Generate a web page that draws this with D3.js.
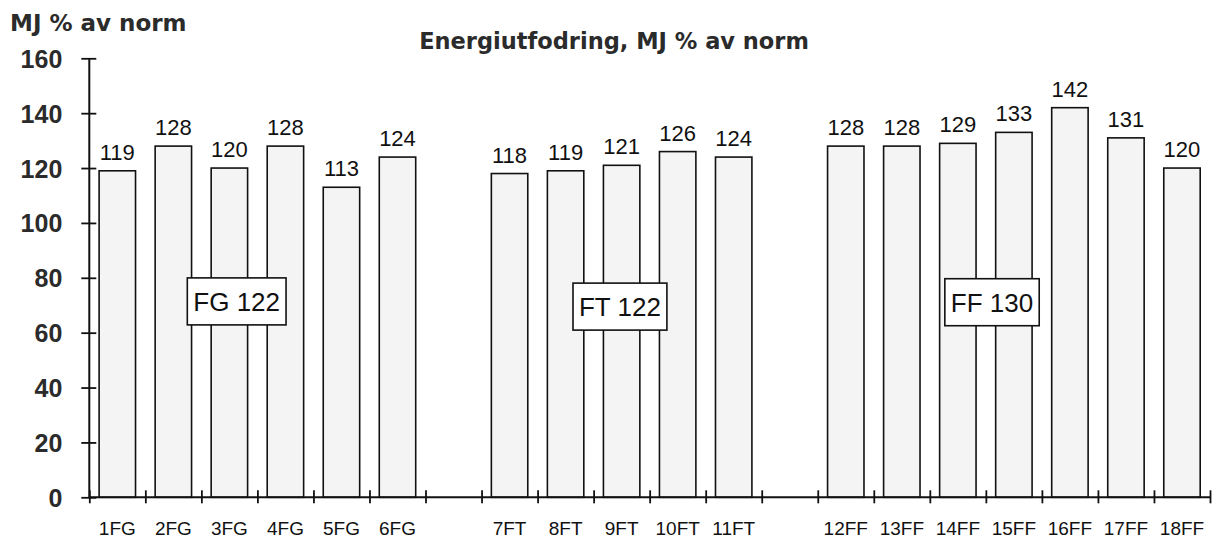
<!DOCTYPE html>
<html>
<head>
<meta charset="utf-8">
<script src="https://cdn.jsdelivr.net/npm/d3@7"></script>
<style>
  html, body { margin: 0; padding: 0; background: #fff; }
  svg { display: block; }
</style>
</head>
<body>
<svg id="chart" width="1219" height="539"></svg>
<script>
// Animals per feeding group, with energy intake as % of norm
const categories = ["1FG","2FG","3FG","4FG","5FG","6FG",
                    "7FT","8FT","9FT","10FT","11FT",
                    "12FF","13FF","14FF","15FF","16FF","17FF","18FF"];
const values = [119,128,120,128,113,124,
                118,119,121,126,124,
                128,128,129,133,142,131,120];
const groups = ["FG","FG","FG","FG","FG","FG",
                "FT","FT","FT","FT","FT",
                "FF","FF","FF","FF","FF","FF","FF"];
// Group averages shown in the boxed labels
const groupNames = ["FG","FT","FF"];
const groupMeans = [122,122,130];
const yTicks = [0,20,40,60,80,100,120,140,160];

const titleText = "Energiutfodring, MJ % av norm";
const yAxisTitle = "MJ % av norm";

// ---- layout ----
const plot = { left: 89.3, right: 1210, top: 58.3, bottom: 497.3 };

// Slots along the x axis: one per animal, plus one empty slot between groups
const slots = [];
categories.forEach((c, i) => {
  if (i > 0 && groups[i] !== groups[i - 1]) slots.push("gap" + slots.length);
  slots.push(c);
});

const x = d3.scaleBand().domain(slots).range([plot.left, plot.right])
  .paddingInner(0.35).paddingOuter(0.175);
const xSlot = d3.scaleLinear().domain([0, slots.length]).range([plot.left, plot.right]);
const y = d3.scaleLinear().domain([0, 160]).range([plot.bottom, plot.top]);

// where each group's boxed average sits (slot units, value units)
const boxPlacement = { FG: [2.63, 71.4], FT: [9.47, 69.5], FF: [16.11, 71.1] };

const svg = d3.select("#chart");
const tickFont = "'Liberation Sans', Arial, sans-serif";
const headFont = "'DejaVu Sans', 'Liberation Sans', sans-serif";

// titles
svg.append("text")
  .attr("x", 10).attr("y", 31)
  .attr("font-family", headFont).attr("font-weight", "bold")
  .attr("font-size", 23).attr("fill", "#2b2b2b")
  .text(yAxisTitle);

svg.append("text")
  .attr("x", 614).attr("y", 49)
  .attr("text-anchor", "middle")
  .attr("font-family", headFont).attr("font-weight", "bold")
  .attr("font-size", 22.5).attr("fill", "#2b2b2b")
  .text(titleText);

// bars
const data = categories.map((c, i) => ({ cat: c, value: values[i], group: groups[i] }));

svg.append("g").selectAll("rect")
  .data(data)
  .join("rect")
  .attr("x", d => x(d.cat))
  .attr("y", d => y(d.value))
  .attr("width", x.bandwidth())
  .attr("height", d => y(0) - y(d.value))
  .attr("fill", "#f4f4f4")
  .attr("stroke", "#111")
  .attr("stroke-width", 1.6);

// value labels
svg.append("g").selectAll("text")
  .data(data)
  .join("text")
  .attr("x", d => x(d.cat) + x.bandwidth() / 2)
  .attr("y", d => y(d.value) - 11)
  .attr("text-anchor", "middle")
  .attr("font-family", tickFont)
  .attr("font-size", 22)
  .attr("fill", "#111")
  .text(d => d.value);

// y axis with ticks crossing the line
const yAxis = svg.append("g")
  .attr("transform", `translate(${plot.left},0)`)
  .call(d3.axisLeft(y).tickValues(yTicks).tickSize(8).tickPadding(19))
  .call(g => g.select(".domain").remove());
yAxis.selectAll(".tick line")
  .attr("x1", 7).attr("x2", -8)
  .attr("stroke", "#111").attr("stroke-width", 1.8);
yAxis.selectAll(".tick text")
  .attr("font-family", tickFont).attr("font-weight", "bold")
  .attr("font-size", 25).attr("fill", "#2b2b2b")
  .attr("dy", "0.36em");
svg.append("line")
  .attr("x1", plot.left).attr("x2", plot.left)
  .attr("y1", y(160)).attr("y2", y(0))
  .attr("stroke", "#111").attr("stroke-width", 2);

// x axis: boundary ticks between slots
const xAxis = svg.append("g")
  .attr("transform", `translate(0,${plot.bottom})`)
  .call(d3.axisBottom(xSlot).tickValues(d3.range(slots.length + 1)).tickSize(6).tickFormat(""))
  .call(g => g.select(".domain").remove());
xAxis.selectAll(".tick line")
  .attr("y1", -7).attr("y2", 6)
  .attr("stroke", "#111").attr("stroke-width", 1.8);
svg.append("line")
  .attr("x1", plot.left).attr("x2", plot.right)
  .attr("y1", y(0)).attr("y2", y(0))
  .attr("stroke", "#111").attr("stroke-width", 2);

// category labels
const xLabels = svg.append("g")
  .attr("transform", `translate(0,${plot.bottom})`)
  .call(d3.axisBottom(x).tickValues(categories).tickSize(0).tickPadding(24))
  .call(g => g.select(".domain").remove());
xLabels.selectAll(".tick text")
  .attr("font-family", tickFont)
  .attr("font-size", 19)
  .attr("fill", "#111");

// boxed group averages
groupNames.forEach((g, i) => {
  const [slotPos, val] = boxPlacement[g];
  const cx = xSlot(slotPos), cy = y(val);
  const grp = svg.append("g");
  const t = grp.append("text")
    .attr("x", cx).attr("y", cy)
    .attr("dy", "0.36em")
    .attr("text-anchor", "middle")
    .attr("font-family", tickFont)
    .attr("font-size", 26)
    .attr("fill", "#111")
    .text(`${g} ${groupMeans[i]}`);
  const w = t.node().getComputedTextLength() + 12;
  grp.insert("rect", "text")
    .attr("x", cx - w / 2).attr("y", cy - 23.5)
    .attr("width", w).attr("height", 47)
    .attr("fill", "#fff")
    .attr("stroke", "#111").attr("stroke-width", 1.6);
});
</script>
</body>
</html>
